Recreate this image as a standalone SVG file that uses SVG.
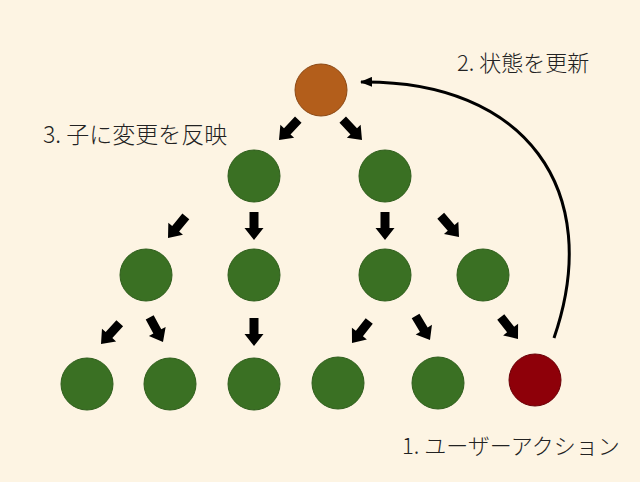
<svg xmlns="http://www.w3.org/2000/svg" xmlns:xlink="http://www.w3.org/1999/xlink" width="640" height="482" viewBox="0 0 640 482">
<style>
.n{stroke-width:1}
.g{fill:#3a7023;stroke:#2f5e1c}
.o{fill:#b35e1b;stroke:#8c4915}
.r{fill:#8e0009;stroke:#6a0007}
.t{font-family:"Noto Sans CJK JP","Noto Sans",sans-serif;fill:#222;font-weight:300}
.a{fill:#000}
</style>
<defs>
<path id="ba" d="M-4.5,-28 L4.5,-28 L4.5,-12 L9.5,-12 L0,0 L-9.5,-12 L-4.5,-12 Z"/>
<marker id="ah" viewBox="0 0 12 10" refX="11" refY="5" markerWidth="12" markerHeight="10" markerUnits="userSpaceOnUse" orient="auto">
<path d="M0,0 L12,5 L0,10 Z" fill="#000"/>
</marker>
</defs>
<rect width="640" height="482" fill="#fdf4e3"/>
<g id="connectors">
<use href="#ba" class="a" transform="translate(279,140) rotate(43.5)"/>
<use href="#ba" class="a" transform="translate(362,140) rotate(-43.5)"/>
<use href="#ba" class="a" transform="translate(168,238) rotate(39.6)"/>
<use href="#ba" class="a" transform="translate(254,240)"/>
<use href="#ba" class="a" transform="translate(385,240)"/>
<use href="#ba" class="a" transform="translate(459,237) rotate(-40.8)"/>
<use href="#ba" class="a" transform="translate(101,344) rotate(42)"/>
<use href="#ba" class="a" transform="translate(163,342) rotate(-28.4)"/>
<use href="#ba" class="a" transform="translate(254,346)"/>
<use href="#ba" class="a" transform="translate(352,343) rotate(38)"/>
<use href="#ba" class="a" transform="translate(430,340) rotate(-31)"/>
<use href="#ba" class="a" transform="translate(518,339) rotate(-38)"/>
<path d="M554,338 C605,190 525,80 361,82" fill="none" stroke="#000" stroke-width="3" marker-end="url(#ah)"/>
</g>
<g id="root"><circle class="n o" cx="321" cy="90" r="26"/></g>
<g id="n2a"><circle class="n g" cx="254" cy="176" r="26"/></g>
<g id="n2b"><circle class="n g" cx="385" cy="176" r="26"/></g>
<g id="n3a"><circle class="n g" cx="146" cy="275" r="26"/></g>
<g id="n3b"><circle class="n g" cx="254" cy="275" r="26"/></g>
<g id="n3c"><circle class="n g" cx="385" cy="275" r="26"/></g>
<g id="n3d"><circle class="n g" cx="483" cy="275" r="26"/></g>
<g id="n4a"><circle class="n g" cx="87" cy="384" r="26"/></g>
<g id="n4b"><circle class="n g" cx="170" cy="384" r="26"/></g>
<g id="n4c"><circle class="n g" cx="254" cy="384" r="26"/></g>
<g id="n4d"><circle class="n g" cx="338" cy="383" r="26"/></g>
<g id="n4e"><circle class="n g" cx="438" cy="383" r="26"/></g>
<g id="n4f"><circle class="n r" cx="535" cy="380" r="26"/></g>
<g id="labels">
<text class="t" x="457" y="71" font-size="22">2. 状態を更新</text>
<text class="t" x="43" y="143" font-size="23">3. 子に変更を反映</text>
<text class="t" x="402" y="454" font-size="22">1. ユーザーアクション</text>
</g>
</svg>
